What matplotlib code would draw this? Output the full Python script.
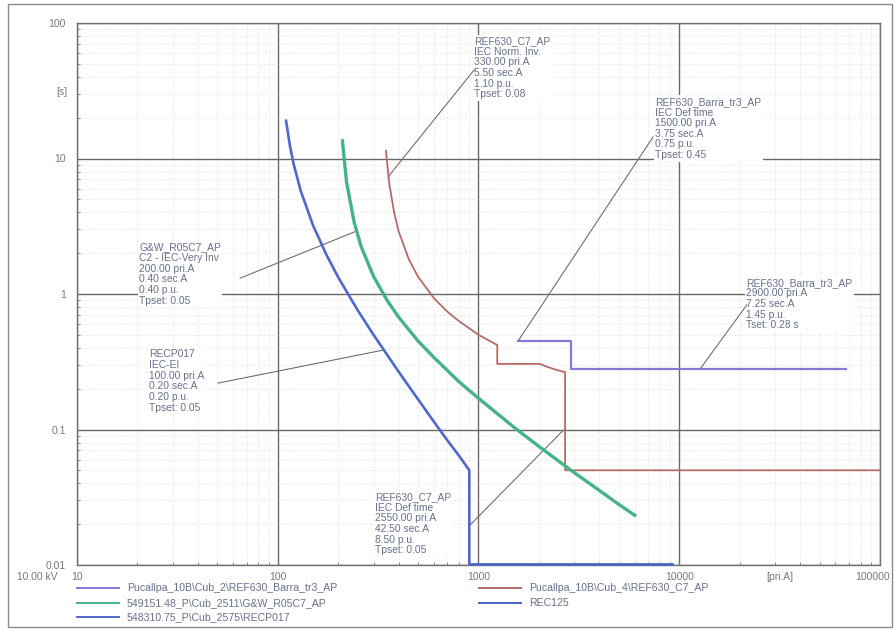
import matplotlib
matplotlib.use("Agg")
import matplotlib.pyplot as plt
from matplotlib.lines import Line2D
from matplotlib.patches import Rectangle
from matplotlib.ticker import LogLocator, NullFormatter, FixedLocator
import matplotlib.transforms as mtrans

plt.rcParams["font.family"] = ["Liberation Sans", "DejaVu Sans"]

# ---------------- data ----------------
barra_I = [1575, 2900, 2900, 68000]
barra_t = [0.45, 0.45, 0.28, 0.28]

c7_I = [346, 350, 360, 380, 400, 450, 500, 600, 700, 800, 1000, 1240, 1240,
        2020, 2200, 2450, 2700, 2700, 100000]
c7_t = [11.4, 9.5, 6.4, 4.0, 2.9, 1.8, 1.34, 0.93, 0.74, 0.63, 0.50, 0.42, 0.305,
        0.305, 0.29, 0.275, 0.265, 0.05, 0.05]

gw_I = [210, 220, 240, 260, 300, 350, 400, 500, 600, 800, 1000, 1500, 2000,
        3000, 4000, 5000, 6000]
gw_t = [13.5, 6.75, 3.4, 2.25, 1.35, 0.9, 0.675, 0.45, 0.34, 0.225, 0.17, 0.104,
        0.075, 0.048, 0.0355, 0.028, 0.0233]

recp_I = [110, 115, 120, 130, 150, 175, 200, 250, 300, 400, 500, 600, 700, 800,
          900, 900]
recp_t = [19, 12.4, 9.1, 5.8, 3.2, 1.94, 1.33, 0.76, 0.5, 0.267, 0.167, 0.114,
          0.083, 0.064, 0.05, 0.01]

rec125_I = [920, 9200]
rec125_t = [0.0101, 0.0101]

x_ticks = [10, 100, 1000, 10000, 100000]
x_ticklabels = ["10", "100", "1000", "10000", "100000"]
y_ticks = [0.01, 0.1, 1, 10, 100]
y_ticklabels = ["0.01", "0.1", "1", "10", "100"]

legend_labels = [
    "Pucallpa_10B\\Cub_2\\REF630_Barra_tr3_AP",
    "549151.48_P\\Cub_2511\\G&W_R05C7_AP",
    "548310.75_P\\Cub_2575\\RECP017",
    "Pucallpa_10B\\Cub_4\\REF630_C7_AP",
    "REC125",
]

labels = [
    ("REF630_C7_AP\nIEC Norm. Inv.\n330.00 pri.A\n5.50 sec.A\n1.10 p.u.\nTpset: 0.08",
     (951, 80), (951, 45), (354, 7.3)),
    ("REF630_Barra_tr3_AP\nIEC Def time\n1500.00 pri.A\n3.75 sec.A\n0.75 p.u.\nTpset: 0.45",
     (7570, 28.5), (7400, 14.4), (1575, 0.45)),
    ("REF630_Barra_tr3_AP\n2900.00 pri.A\n7.25 sec.A\n1.45 p.u.\nTset: 0.28 s",
     (21500, 1.32), (21700, 0.83), (12700, 0.28)),
    ("G&W_R05C7_AP\nC2 - IEC-Very Inv\n200.00 pri.A\n0.40 sec.A\n0.40 p.u.\nTpset: 0.05",
     (20.4, 2.4), (65, 1.31), (245, 2.9)),
    ("RECP017\nIEC-EI\n100.00 pri.A\n0.20 sec.A\n0.20 p.u.\nTpset: 0.05",
     (22.9, 0.39), (50.4, 0.22), (334, 0.385)),
    ("REF630_C7_AP\nIEC Def time\n2550.00 pri.A\n42.50 sec.A\n8.50 p.u.\nTpset: 0.05",
     (305, 0.0345), (898, 0.0194), (2650, 0.099)),
]

# ---------------- styles ----------------
c_barra = "#8578d6"
c_c7 = "#b56a6a"
c_gw = "#45b386"
c_recp = "#5068cc"
c_rec125 = "#4a66bf"
txt_col = "#66708c"
tick_col = "#777777"
grid_major = "#666666"
grid_minor = "#dadada"

W, H = 895, 630
fig = plt.figure(figsize=(W / 100, H / 100), dpi=100)
fig.patch.set_facecolor("white")


def fx(px):
    return px / W


def fy(py):
    return 1 - py / H


left, right, top, bottom = 77, 880, 23, 565
ax = fig.add_axes([fx(left), fy(bottom), (right - left) / W, (bottom - top) / H])
ax.set_xscale("log")
ax.set_yscale("log")
ax.set_xlim(10, 100000)
ax.set_ylim(0.01, 100)

ax.xaxis.set_major_locator(FixedLocator(x_ticks))
ax.yaxis.set_major_locator(FixedLocator(y_ticks))
ax.set_xticklabels(x_ticklabels)
ax.set_yticklabels(y_ticklabels)
ax.xaxis.set_minor_locator(LogLocator(base=10, subs=range(2, 10), numticks=20))
ax.yaxis.set_minor_locator(LogLocator(base=10, subs=range(2, 10), numticks=20))
ax.xaxis.set_minor_formatter(NullFormatter())
ax.yaxis.set_minor_formatter(NullFormatter())

ax.tick_params(which="both", direction="in", colors=tick_col, labelsize=7.5,
               labelcolor=tick_col)
ax.tick_params(which="major", length=0)
ax.tick_params(which="minor", length=2.5, width=0.6)
ax.tick_params(axis="y", pad=8)
ax.tick_params(axis="x", pad=5)

# keep the last x tick label inside the picture
last = ax.get_xticklabels()[-1]
last.set_transform(last.get_transform() + mtrans.ScaledTranslation(-7 / 100, 0, fig.dpi_scale_trans))

ax.grid(which="major", color=grid_major, lw=1.0, zorder=1)
ax.grid(which="minor", color=grid_minor, lw=0.6, ls=(0, (1, 2)), zorder=0)
ax.set_axisbelow(True)
for s in ax.spines.values():
    s.set_color("#707070")
    s.set_linewidth(1.0)

# curves
ax.plot(barra_I, barra_t, color=c_barra, lw=1.6, zorder=5)
ax.plot(c7_I, c7_t, color=c_c7, lw=1.3, zorder=5)
ax.plot(gw_I, gw_t, color=c_gw, lw=2.4, zorder=5)
ax.plot(recp_I, recp_t, color=c_recp, lw=1.9, zorder=6)
ax.plot(rec125_I, rec125_t, color=c_rec125, lw=2.0, zorder=6, clip_on=False)

# labels with leader lines
for text, tpos, p0, p1 in labels:
    ax.text(tpos[0], tpos[1], text, ha="left", va="top", fontsize=7.4,
            color=txt_col, linespacing=1.08, zorder=3,
            bbox=dict(facecolor="white", edgecolor="none", pad=1.0))
    ax.plot([p0[0], p1[0]], [p0[1], p1[1]], color="#6e6e6e", lw=0.8, zorder=4)

# axis annotations
fig.text(fx(62), fy(92), "[s]", ha="center", va="center", fontsize=7.4, color=tick_col)
fig.text(fx(780), fy(577), "[pri.A]", ha="center", va="center", fontsize=7.4, color=tick_col)
fig.text(fx(37), fy(577), "10.00 kV", ha="center", va="center", fontsize=7.4, color=tick_col)

# legend (manual, two columns)
colors = [c_barra, c_gw, c_recp, c_c7, c_rec125]
rows_y = [588, 603, 617]
pos = [(0, 0), (0, 1), (0, 2), (1, 0), (1, 1)]
col_x = [77, 479]
for (col, row), lab, col_c in zip(pos, legend_labels, colors):
    x0 = col_x[col]
    y = rows_y[row]
    fig.add_artist(Line2D([fx(x0), fx(x0 + 42)], [fy(y), fy(y)], color=col_c, lw=1.4))
    fig.text(fx(x0 + 50), fy(y), lab, ha="left", va="center", fontsize=7.6, color=txt_col)

# outer frame
fig.add_artist(Rectangle((fx(8), fy(627)), (892 - 8) / W, (627 - 4) / H,
                         transform=fig.transFigure, fill=False, edgecolor="#8a8a8a", lw=1.0))

fig.savefig("out.png", dpi=100)
